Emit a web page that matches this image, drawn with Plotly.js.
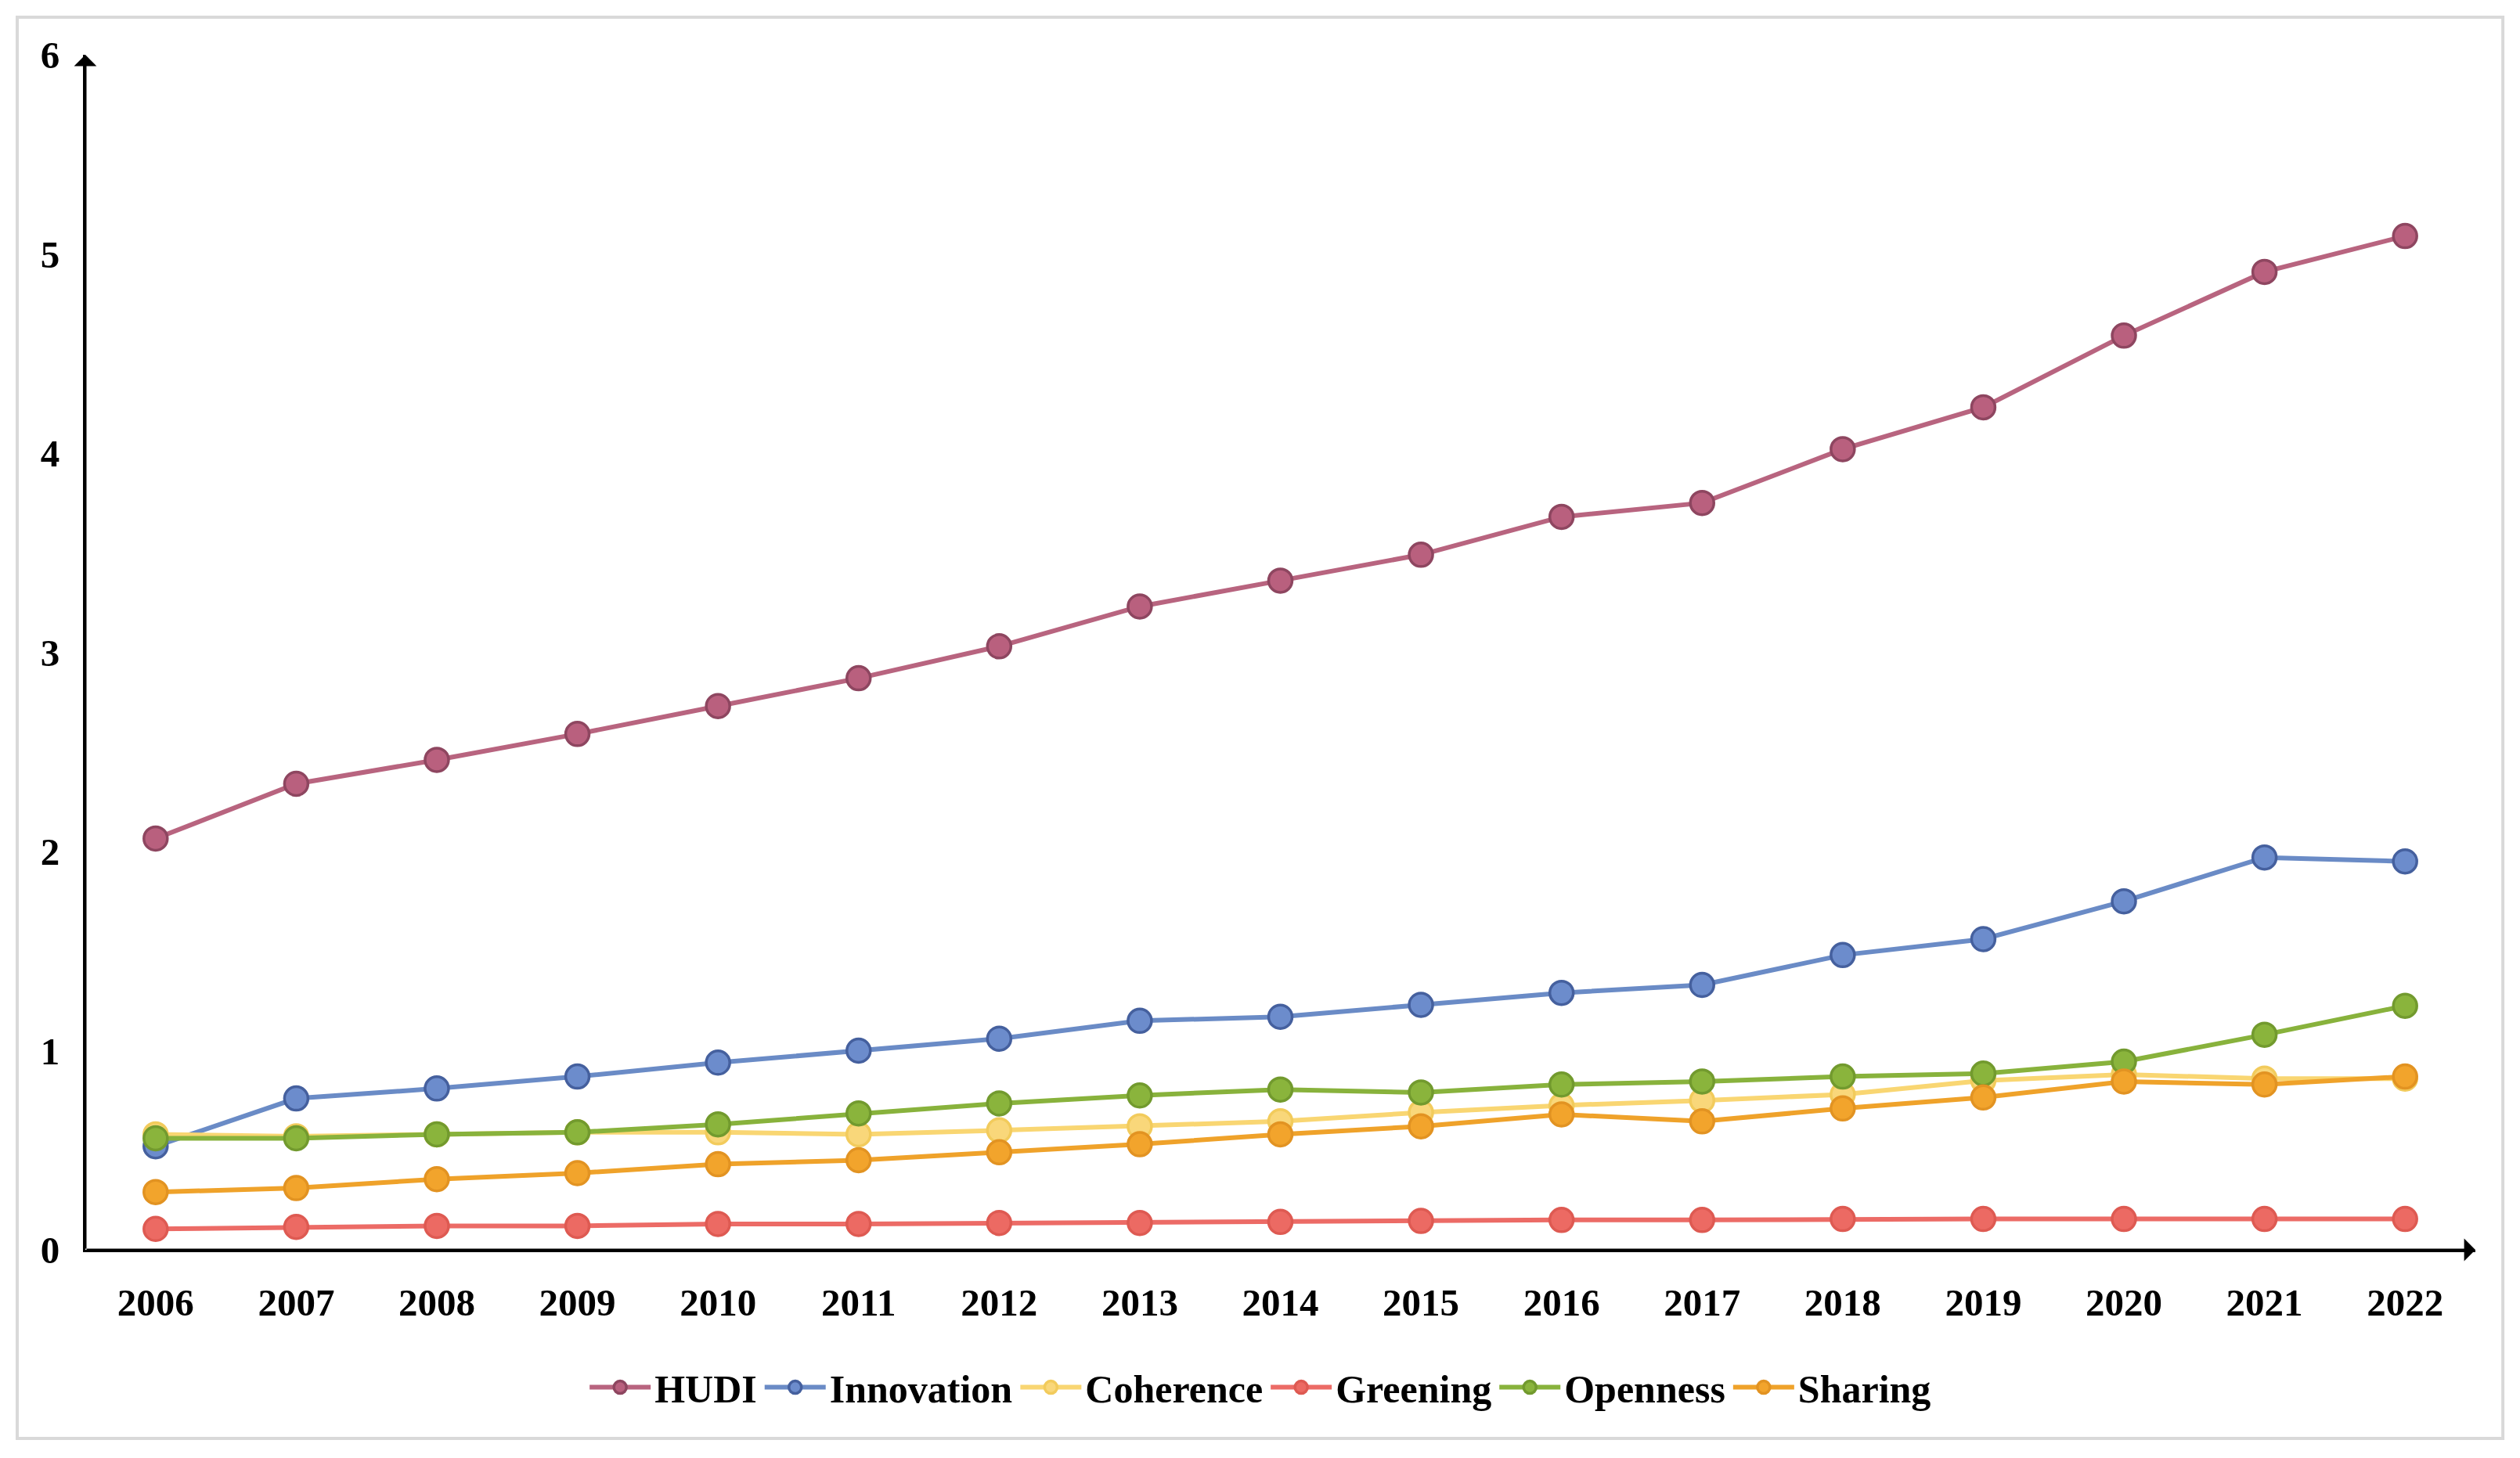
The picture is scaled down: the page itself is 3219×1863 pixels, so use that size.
<!DOCTYPE html>
<html>
<head>
<meta charset="utf-8">
<script src="https://cdn.plot.ly/plotly-3.0.1.min.js"></script>
<style>
  html, body { margin: 0; padding: 0; background: #ffffff; }
  #chart { width: 3219px; height: 1863px; }
</style>
</head>
<body>
<div id="chart"></div>
<script>
const years = [2006, 2007, 2008, 2009, 2010, 2011, 2012, 2013, 2014, 2015, 2016, 2017, 2018, 2019, 2020, 2021, 2022];
const yTicks = [0, 1, 2, 3, 4, 5, 6];

const hudi       = [2.065, 2.34, 2.46, 2.59, 2.73, 2.87, 3.03, 3.23, 3.36, 3.49, 3.68, 3.75, 4.02, 4.23, 4.59, 4.91, 5.09];
const innovation = [0.52, 0.76, 0.81, 0.87, 0.94, 1.00, 1.06, 1.15, 1.17, 1.23, 1.29, 1.33, 1.48, 1.56, 1.75, 1.97, 1.95];
const coherence  = [0.58, 0.57, 0.58, 0.59, 0.59, 0.58, 0.60, 0.62, 0.645, 0.69, 0.725, 0.75, 0.78, 0.85, 0.88, 0.86, 0.86];
const greening   = [0.105, 0.115, 0.12, 0.12, 0.13, 0.13, 0.135, 0.135, 0.14, 0.145, 0.15, 0.15, 0.155, 0.155, 0.155, 0.155, 0.155];
const openness   = [0.56, 0.56, 0.58, 0.59, 0.63, 0.685, 0.735, 0.775, 0.805, 0.79, 0.83, 0.845, 0.87, 0.885, 0.945, 1.08, 1.225];
const sharing    = [0.29, 0.31, 0.355, 0.385, 0.43, 0.45, 0.49, 0.53, 0.58, 0.62, 0.68, 0.645, 0.71, 0.765, 0.845, 0.83, 0.87];

const seriesNames = ['HUDI', 'Innovation', 'Coherence', 'Greening', 'Openness', 'Sharing'];
const seriesData = [hudi, innovation, coherence, greening, openness, sharing];
const lineColors = ['#b8647f', '#6a8bc6', '#f9d672', '#ec6b66', '#88b23c', '#efa22a'];
const fillColors = ['#b9607e', '#6c8ccc', '#f9d77a', '#ec6a63', '#8ab43c', '#f2a42c'];
const edgeColors = ['#8e4660', '#45609e', '#f2cb5c', '#de5a52', '#729a2e', '#e29322'];

const FONT = '"Liberation Serif", "Times New Roman", serif';

const traces = seriesNames.map((name, i) => ({
  type: 'scatter',
  mode: 'lines+markers',
  name: name,
  x: years,
  y: seriesData[i],
  line: { color: lineColors[i], width: 6 },
  marker: { symbol: 'circle', size: 30, color: fillColors[i], line: { color: edgeColors[i], width: 3.5 } },
  cliponaxis: false
}));

const layout = {
  width: 3219,
  height: 1863,
  paper_bgcolor: '#ffffff',
  plot_bgcolor: '#ffffff',
  margin: { l: 109, r: 57, t: 70, b: 266 },
  font: { family: FONT, color: '#000000' },
  showlegend: true,
  legend: {
    orientation: 'h',
    x: 0.4917,
    xanchor: 'center',
    y: -0.115,
    yanchor: 'middle',
    font: { family: FONT, size: 50, color: '#000000', weight: 'bold' },
    itemwidth: 78,
    tracegroupgap: 0,
    bgcolor: 'rgba(0,0,0,0)'
  },
  xaxis: {
    type: 'linear',
    range: [2005.5, 2022.5],
    tickvals: years,
    ticktext: years.map(String),
    showgrid: false,
    zeroline: false,
    showline: true,
    linecolor: '#000000',
    linewidth: 3,
    ticks: '',
    ticklabelstandoff: 22,
    tickfont: { family: FONT, size: 49, color: '#000000', weight: 'bold' },
    fixedrange: true
  },
  yaxis: {
    range: [0, 6],
    tickvals: yTicks,
    ticktext: yTicks.map(String),
    showgrid: false,
    zeroline: false,
    showline: true,
    linecolor: '#000000',
    linewidth: 3,
    ticks: '',
    ticklabelstandoff: 20,
    tickfont: { family: FONT, size: 49, color: '#000000', weight: 'bold' },
    fixedrange: true
  },
  annotations: [
    { x: 2022.5, y: 0, ax: 2005.5, ay: 0, xref: 'x', yref: 'y', axref: 'x', ayref: 'y',
      showarrow: true, arrowhead: 1, arrowsize: 1.6, arrowwidth: 3, arrowcolor: '#000000', text: '' },
    { x: 2005.5, y: 6, ax: 2005.5, ay: 0, xref: 'x', yref: 'y', axref: 'x', ayref: 'y',
      showarrow: true, arrowhead: 1, arrowsize: 1.6, arrowwidth: 3, arrowcolor: '#000000', text: '' }
  ],
  shapes: [
    { type: 'rect', xref: 'paper', yref: 'paper',
      x0: -0.0285, x1: 1.0115, y0: -0.1578, y1: 1.0314,
      line: { color: '#d9d9d9', width: 4 }, fillcolor: 'rgba(0,0,0,0)', layer: 'below' }
  ]
};

Plotly.newPlot('chart', traces, layout, { displayModeBar: false, staticPlot: true });
</script>
</body>
</html>
